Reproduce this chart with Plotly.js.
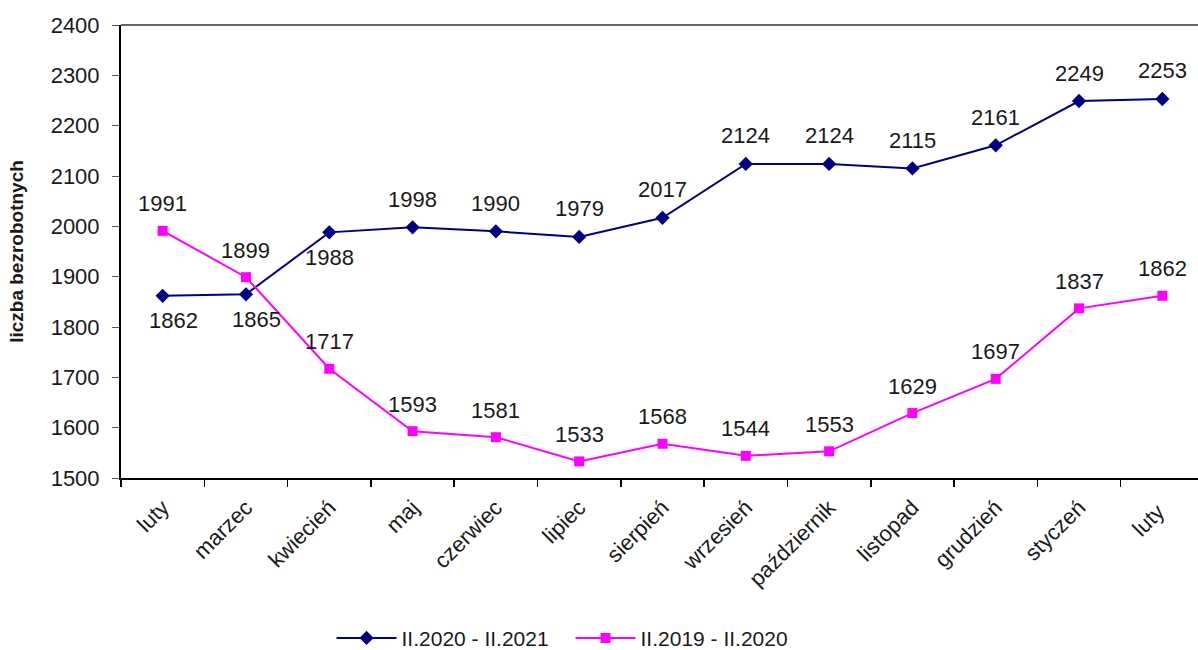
<!DOCTYPE html>
<html>
<head>
<meta charset="utf-8">
<script src="https://cdn.plot.ly/plotly-3.0.1.min.js"></script>
<style>html,body{margin:0;padding:0;overflow:hidden;background:#fff}</style>
</head>
<body>
<div id="chart" style="width:1210px;height:650px"></div>
<script>
const months = ['luty','marzec','kwiecień','maj','czerwiec','lipiec','sierpień','wrzesień','październik','listopad','grudzień','styczeń','luty '];
const series2021 = [1862,1865,1988,1998,1990,1979,2017,2124,2124,2115,2161,2249,2253];
const series2020 = [1991,1899,1717,1593,1581,1533,1568,1544,1553,1629,1697,1837,1862];
const name2021 = 'II.2020 - II.2021';
const name2020 = 'II.2019 - II.2020';
const labelBelow2021 = [true,true,true,false,false,false,false,false,false,false,false,false,false];

const fontFam = 'Liberation Sans, Arial, sans-serif';
const txtColor = '#1a1a1a';

const traces = [
  {x: months, y: series2021, name: name2021, type: 'scatter', mode: 'lines+markers',
   line: {color: '#000080', width: 2}, marker: {symbol: 'diamond', size: 11, color: '#000080'}},
  {x: months, y: series2020, name: name2020, type: 'scatter', mode: 'lines+markers',
   line: {color: '#FF00FF', width: 2}, marker: {symbol: 'square', size: 10, color: '#FF00FF'}}
];

const annotations = [];
months.forEach((m, i) => {
  annotations.push({x: m, y: series2021[i], text: String(series2021[i]), showarrow: false,
    yshift: labelBelow2021[i] ? -25 : 28, xshift: (i === 0 || i === 1) ? 11 : 0,
    font: {family: fontFam, size: 22, color: txtColor}});
  annotations.push({x: m, y: series2020[i], text: String(series2020[i]), showarrow: false,
    yshift: 27, font: {family: fontFam, size: 22, color: txtColor}});
});

const layout = {
  width: 1210, height: 650,
  margin: {l: 121, r: 6, t: 25, b: 172, autoexpand: false},
  paper_bgcolor: '#fff', plot_bgcolor: '#fff',
  showlegend: true,
  legend: {orientation: 'h', xref: 'container', yref: 'container', x: 0.274, xanchor: 'left', y: 0.018, yanchor: 'middle',
    font: {family: fontFam, size: 21, color: txtColor}, itemwidth: 60, tracegroupgap: 0,
    entrywidth: 164, entrywidthmode: 'pixels'},
  xaxis: {type: 'category', range: [-0.5, 12.5], showgrid: false, showline: true, linecolor: '#000', linewidth: 2,
    ticks: 'outside', tickson: 'boundaries', ticklen: 7, tickcolor: '#000', tickwidth: 1.5,
    tickangle: -45, ticklabelstandoff: 6, tickfont: {family: fontFam, size: 22, color: txtColor}, zeroline: false, fixedrange: true},
  yaxis: {range: [1500, 2400], dtick: 100, showgrid: false, showline: true, linecolor: '#000', linewidth: 2,
    ticks: 'outside', ticklen: 7, tickcolor: '#555', ticklabelstandoff: 8, tickfont: {family: fontFam, size: 22, color: txtColor},
    zeroline: false,
    title: {text: 'liczba bezrobotnych', standoff: 22, font: {family: fontFam, size: 19, color: txtColor, weight: 'bold'}}},
  shapes: [{type: 'line', xref: 'paper', yref: 'paper', x0: 0, x1: 1, y0: 1, y1: 1, line: {color: '#666', width: 2}}],
  annotations: annotations
};

Plotly.newPlot('chart', traces, layout, {displayModeBar: false, staticPlot: true});
</script>
</body>
</html>
